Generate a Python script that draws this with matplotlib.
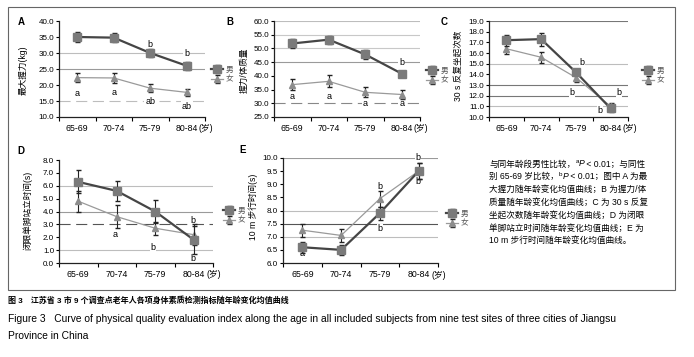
import matplotlib
matplotlib.use('Agg')
import matplotlib.pyplot as plt
from matplotlib.patches import Rectangle
from matplotlib.transforms import blended_transform_factory
import numpy as np

plt.rcParams['font.family'] = ['Liberation Sans', 'Noto Sans CJK SC', 'DejaVu Sans']

ages = ['65-69', '70-74', '75-79', '80-84']

# A: 最大握力
a_male = [35.0, 34.8, 30.0, 26.0]
a_male_err = [1.5, 1.5, 1.2, 1.2]
a_female = [22.3, 22.2, 19.0, 17.7]
a_female_err = [1.5, 1.5, 1.2, 1.2]

# B: 握力/体质量
b_male = [51.8, 53.2, 47.8, 40.8]
b_male_err = [1.5, 1.5, 1.5, 0.8]
b_female = [36.8, 38.0, 34.0, 33.2]
b_female_err = [2.0, 2.2, 1.8, 1.5]

# C: 30 s 反复坐起次数
c_male = [17.2, 17.3, 14.2, 10.8]
c_male_err = [0.5, 0.6, 0.3, 0.3]
c_female = [16.4, 15.6, 13.7, 11.0]
c_female_err = [0.5, 0.5, 0.4, 0.3]

# D: 闭眼单脚站立时间
d_male = [6.3, 5.6, 4.0, 1.8]
d_male_err = [0.9, 0.8, 0.9, 1.1]
d_female = [4.8, 3.6, 2.7, 2.2]
d_female_err = [0.8, 0.9, 0.5, 0.8]

# E: 10 m 步行时间
e_male = [6.6, 6.5, 7.9, 9.5]
e_male_err = [0.2, 0.2, 0.25, 0.3]
e_female = [7.25, 7.05, 8.45, 9.5]
e_female_err = [0.25, 0.25, 0.3, 0.3]

W, H = 694, 357
fig = plt.figure(figsize=(W / 100, H / 100), dpi=100)


def add_ax(l, t, r, b):
    return fig.add_axes([l / W, 1 - b / H, (r - l) / W, (b - t) / H])


def panel(box, male, male_err, female, female_err, ylim, ystep, grids, letters,
          ylabel, ylabel_xy, tag, tag_xy, leg_xy):
    ax = add_ax(*box)
    x = np.arange(len(ages))
    for y, c, ls in grids:
        ax.axhline(y, color=c, lw=0.8, ls=ls, zorder=0)
    ax.errorbar(x, female, yerr=female_err, color='#9a9a9a', lw=0.9, marker='^',
                ms=4.5, mfc='#8c8c8c', mec='#8c8c8c', ecolor='#222222',
                elinewidth=0.8, capsize=1.8, label='女', zorder=3)
    ax.errorbar(x, male, yerr=male_err, color='#454545', lw=1.6, marker='s',
                ms=5.5, mfc='#7a7a7a', mec='#7a7a7a', ecolor='#222222',
                elinewidth=0.8, capsize=1.8, label='男', zorder=4)
    for xi, yi, s in letters:
        ax.text(xi, yi, s, ha='center', va='center', fontsize=6.5,
                bbox=dict(facecolor='white', edgecolor='none', pad=0.6), zorder=2)
    ax.set_xlim(-0.5, 3.5)
    ax.set_ylim(*ylim)
    ax.set_yticks(np.arange(ylim[0], ylim[1] + ystep / 2, ystep))
    ax.set_yticklabels(['%.1f' % v for v in np.arange(ylim[0], ylim[1] + ystep / 2, ystep)])
    ax.set_xticks(x)
    ax.set_xticklabels(ages)
    ax.set_xticks(np.arange(-0.5, 4.0, 1.0), minor=True)
    ax.tick_params(axis='x', which='major', length=0, labelsize=6.3, pad=5)
    ax.tick_params(axis='x', which='minor', length=3, width=0.8, direction='out')
    ax.tick_params(axis='y', length=2.5, width=0.8, labelsize=5.8, pad=1)
    for s in ['top', 'right']:
        ax.spines[s].set_visible(False)
    for s in ['left', 'bottom']:
        ax.spines[s].set_linewidth(0.9)
        ax.spines[s].set_color('#222222')
    tr = blended_transform_factory(ax.transData, ax.transAxes)
    ax.text(3.33, -0.115, '(岁)', transform=tr, ha='left', va='center', fontsize=6.3)
    fig.text(ylabel_xy[0] / W, 1 - ylabel_xy[1] / H, ylabel, rotation=90,
             ha='center', va='center', fontsize=6.2)
    fig.text(tag_xy[0] / W, 1 - tag_xy[1] / H, tag, ha='center', va='center',
             fontsize=7, fontweight='bold')
    h, l = ax.get_legend_handles_labels()
    ax.legend(h[::-1], l[::-1], loc='center left', frameon=False,
              bbox_to_anchor=(leg_xy[0] / W, 1 - leg_xy[1] / H),
              bbox_transform=fig.transFigure, fontsize=5.5, handlelength=1.6,
              handletextpad=0.3, labelspacing=0.35, borderpad=0, labelcolor='#555555')
    return ax


panel((59, 21, 205, 117), a_male, a_male_err, a_female, a_female_err,
      (10.0, 40.0), 5.0,
      [(30, '#bdbdbd', '-'), (25, '#9a9a9a', '-'), (15, '#bdbdbd', (0, (10, 5)))],
      [(2, 32.6, 'b'), (3, 30.0, 'b'), (0, 17.3, 'a'), (1, 17.6, 'a'),
       (2, 15.0, 'ab'), (3, 13.3, 'ab')],
      '最大握力(kg)', (23, 70), 'A', (21, 22), (207, 75))

panel((274, 21, 420, 117), b_male, b_male_err, b_female, b_female_err,
      (25.0, 60.0), 5.0,
      [(60, '#bdbdbd', '-'), (55, '#c8c8c8', '-'), (50, '#c8c8c8', '-'),
       (45, '#9a9a9a', '-'), (30, '#888888', (0, (10, 5)))],
      [(3, 44.8, 'b'), (0, 32.3, 'a'), (1, 32.3, 'a'), (2, 29.8, 'a'), (3, 29.8, 'a')],
      '握力/体质量', (244, 70), 'B', (230, 22), (422, 76))

panel((489, 21, 628, 117), c_male, c_male_err, c_female, c_female_err,
      (10.0, 19.0), 1.0,
      [(19, '#777777', '-'), (15, '#bdbdbd', '-'), (13, '#777777', '-'),
       (12, '#777777', '-'), (11, '#bdbdbd', '-')],
      [(2.18, 15.1, 'b'), (1.89, 12.3, 'b'), (3.24, 12.3, 'b'), (2.69, 10.6, 'b')],
      '30 s 反复坐起次数', (458, 66), 'C', (444, 22), (638, 76))

panel((59, 160, 213, 263), d_male, d_male_err, d_female, d_female_err,
      (0.0, 8.0), 1.0,
      [(6, '#bdbdbd', '-'), (4, '#9a9a9a', '-'), (3, '#555555', (0, (10, 5))),
       (1, '#bdbdbd', '-')],
      [(0.95, 2.2, 'a'), (1.94, 1.2, 'b'), (2.98, 3.3, 'b'), (2.98, 0.35, 'b')],
      '闭眼单脚站立时间(s)', (27, 210), 'D', (21, 151), (219, 216))

panel((283, 158, 438, 263), e_male, e_male_err, e_female, e_female_err,
      (6.0, 10.0), 0.5,
      [(10, '#9a9a9a', '-'), (8, '#bdbdbd', '-'), (7.5, '#555555', '-'),
       (7, '#bdbdbd', '-')],
      [(0, 6.35, 'a'), (2.0, 8.9, 'b'), (2.0, 7.3, 'b'), (2.98, 10.0, 'b'), (2.98, 9.1, 'b')],
      '10 m 步行时间(s)', (253, 207), 'E', (243, 150), (442, 219))

# note text: pieces (text, italic, superscript)
notes = [
    [('与同年龄段男性比较，', 0, 0), ('a', 0, 1), ('P', 1, 0), (' < 0.01；与同性', 0, 0)],
    [('别 65-69 岁比较，', 0, 0), ('b', 0, 1), ('P', 1, 0), (' < 0.01；图中 A 为最', 0, 0)],
    [('大握力随年龄变化均值曲线；B 为握力/体', 0, 0)],
    [('质量随年龄变化均值曲线；C 为 30 s 反复', 0, 0)],
    [('坐起次数随年龄变化均值曲线；D 为闭眼', 0, 0)],
    [('单脚站立时间随年龄变化均值曲线；E 为', 0, 0)],
    [('10 m 步行时间随年龄变化均值曲线。', 0, 0)],
]
renderer = fig.canvas.get_renderer()
for i, pieces in enumerate(notes):
    xpix = 489.0
    ypix = 164 + i * 12.8
    for s, it, sup in pieces:
        t = fig.text(xpix / W, 1 - (ypix - (2.5 if sup else 0)) / H, s, ha='left', va='center',
                     fontsize=4.5 if sup else 6.2, style='italic' if it else 'normal')
        xpix = t.get_window_extent(renderer).x1

fig.add_artist(Rectangle((8 / W, 1 - 290 / H), (675 - 8) / W, (290 - 7) / H,
                         transform=fig.transFigure, fill=False, edgecolor='#666666', lw=0.8))

fig.text(8 / W, 1 - 301 / H, '图 3　江苏省 3 市 9 个调查点老年人各项身体素质检测指标随年龄变化均值曲线',
         ha='left', va='center', fontsize=5.8, fontweight='bold')
fig.text(8 / W, 1 - 319 / H, 'Figure 3   Curve of physical quality evaluation index along the age in all included '
         'subjects from nine test sites of three cities of Jiangsu', ha='left', va='center', fontsize=7.4)
fig.text(8 / W, 1 - 336 / H, 'Province in China', ha='left', va='center', fontsize=7.4)

fig.savefig('out.png', dpi=100)
